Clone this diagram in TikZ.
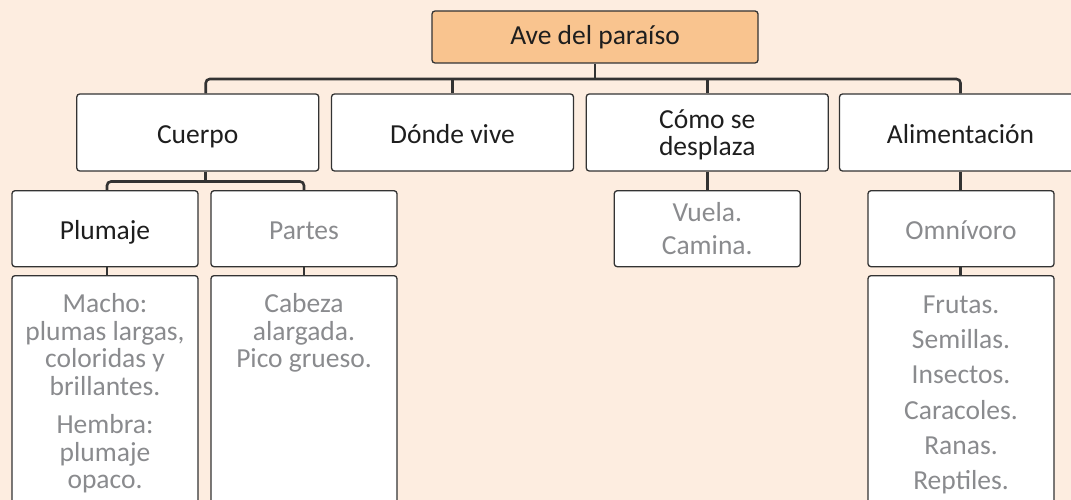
\documentclass[tikz,border=0pt]{standalone}
\usepackage{fontspec}
\setmainfont{Carlito}
\usetikzlibrary{positioning}
\usepackage{xcolor}
\definecolor{fondo}{HTML}{FDEDE0}
\definecolor{naranja}{HTML}{F9C48F}
\definecolor{borde}{HTML}{333333}
\definecolor{gris}{HTML}{8A8B8E}
\definecolor{negro}{HTML}{1E1E1E}

\begin{document}
\begin{tikzpicture}[x=1pt,y=-1pt,
		letra/.style={font=\fontsize{27.5}{27.5}\selectfont},
		caja/.style={letra, draw=borde, line width=1.3pt, fill=white, rounded corners=3pt,
			align=center, inner sep=0pt, text=negro, minimum width=242pt, minimum height=77pt},
		una/.style={text height=28.5pt, text depth=6pt},
		subcaja/.style={caja, minimum width=186pt, minimum height=76pt},
		lista/.style={caja, minimum width=186pt, anchor=north, inner ysep=18pt, text=gris},
		enlace/.style={draw=borde, line width=2.6pt}]
			\clip (0,0) rectangle (1071,500);
			\fill[fondo] (0,0) rectangle (1071,500);
			% raiz
			\node[caja, fill=naranja, minimum width=326pt, minimum height=52pt] (ave) at (595,37) {Ave del paraíso};
			% primer nivel
			\node[caja, una] (cuerpo) at (197.75,132.5) {Cuerpo};
			\node[caja, una] (donde) at (452.5,132.5) {Dónde vive};
			\node[caja] (como) at (707.25,132.5) {\parbox{200pt}{\centering\rule{0pt}{23pt}Cómo se\\desplaza}};
			\node[caja, una] (alim) at (960.5,132.5) {Alimentación};
			% segundo nivel
			\node[subcaja, una] (plumaje) at (105,228.7) {Plumaje};
			\node[subcaja, una, text=gris] (partes) at (304,228.7) {Partes};
			\node[subcaja, text=gris] (vuela) at (707.25,228.7) {\parbox{180pt}{\centering\fontsize{27.5}{33}\selectfont Vuela.\\Camina.}};
			\node[subcaja, una, text=gris] (omni) at (961,228.7) {Omnívoro};
			% tercer nivel
			\node[lista] (macho) at (105,275) {\parbox[t][250pt][t]{180pt}{\centering
				Macho:\\plumas largas,\\coloridas y\\brillantes.\\[11pt]Hembra:\\plumaje\\opaco.}};
			\node[lista] (cabeza) at (304,275) {\parbox[t][250pt][t]{180pt}{\centering
				Cabeza\\alargada.\\Pico grueso.}};
			\node[lista, inner ysep=20pt] (frutas) at (961,275) {\parbox[t][250pt][t]{180pt}{\centering
				\fontsize{27.5}{35.3}\selectfont Frutas.\\Semillas.\\Insectos.\\Caracoles.\\Ranas.\\Reptiles.}};
			% conectores
			\coordinate (bus) at (0,79);
			\coordinate (bus2) at (0,181.5);
			\draw[enlace] (ave.south) -- (ave.south |- bus);
			\draw[enlace, rounded corners=4pt] ([xshift=8pt]cuerpo.north) |- (bus -| alim.north) -- (alim.north);
			\draw[enlace] (donde.north |- bus) -- (donde.north);
			\draw[enlace] (como.north |- bus) -- (como.north);
			\draw[enlace] ([xshift=8pt]cuerpo.south) -- ([xshift=8pt]cuerpo.south |- bus2);
			\draw[enlace, rounded corners=4pt] ([xshift=2pt]plumaje.north) |- (bus2 -| partes.north) -- (partes.north);
			\draw[enlace] (como.south) -- (vuela.north);
			\draw[enlace] (alim.south) -- (alim.south |- omni.north);
			\draw[enlace] ([xshift=2pt]plumaje.south) -- ([xshift=2pt]plumaje.south |- macho.north);
			\draw[enlace] (partes.south) -- (cabeza.north);
			\draw[enlace] (omni.south -| alim.south) -- (alim.south |- frutas.north);
		\end{tikzpicture}
\end{document}
